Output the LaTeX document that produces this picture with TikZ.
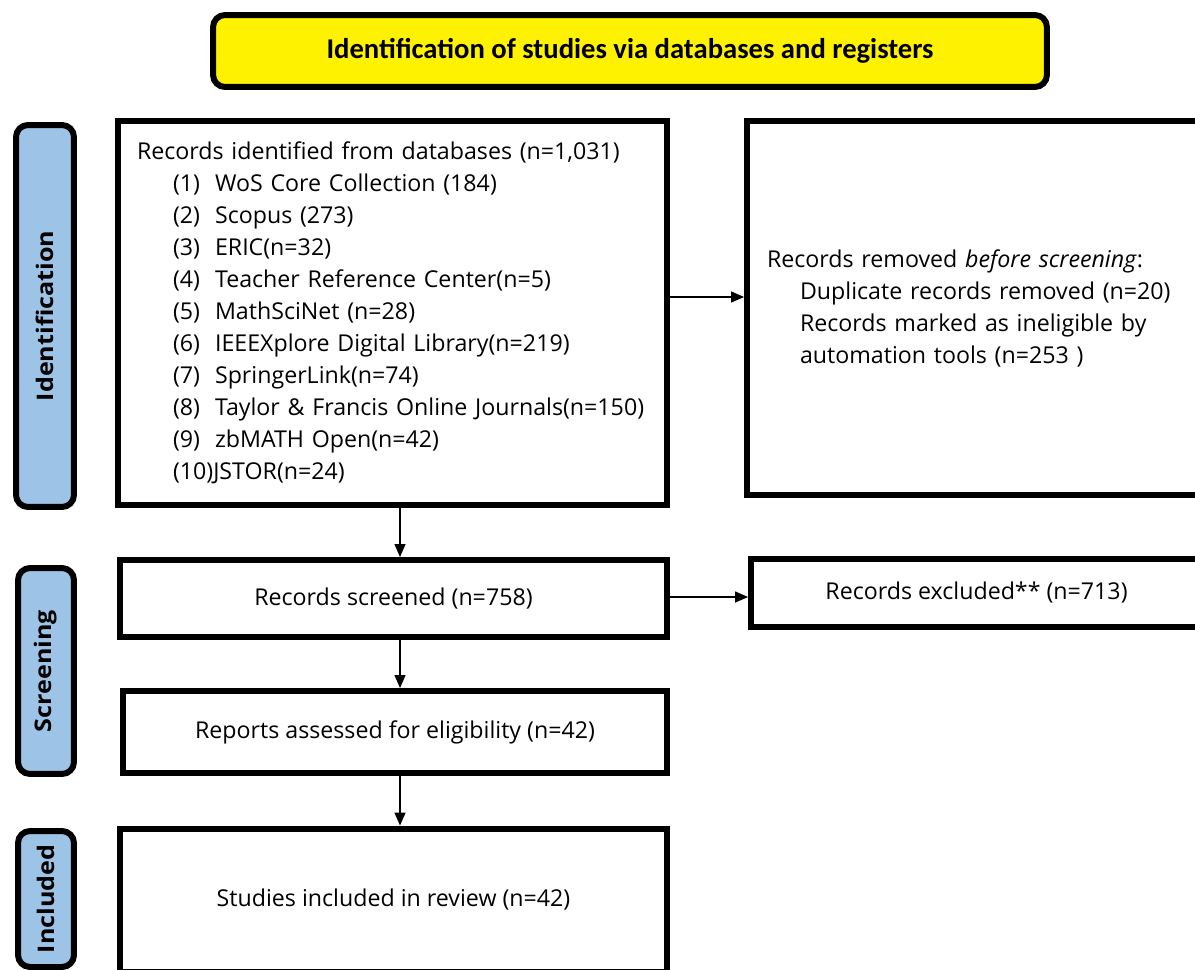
\documentclass[tikz,border=0pt]{standalone}
\usepackage{fontspec}
\setmainfont{Open Sans}
\newfontfamily\headfont{Carlito}
\newfontfamily\sidefont{Open Sans}[FakeStretch=1.1]
\usetikzlibrary{arrows.meta}
\definecolor{phaseblue}{HTML}{9DC3E6}
\newcommand{\src}[2]{\hspace*{0.72cm}\makebox[0.84cm][l]{(#1)}#2}
\tikzset{
  box/.style={draw, line width=0.12cm, inner sep=0pt, align=center},
  phase/.style={draw, line width=0.12cm, rounded corners=0.24cm, fill=phaseblue,
    inner sep=0pt, rotate=90, font=\sidefont\bfseries\fontsize{13pt}{15pt}\selectfont},
  arr/.style={-{Triangle[length=0.26cm,width=0.22cm]}, line width=0.028cm},
  txt/.style={font=\fontsize{13.2pt}{18.2pt}\selectfont}
}
\begin{document}
\begin{tikzpicture}[x=0.02cm, y=-0.02cm, txt]
    \useasboundingbox (0,0) rectangle (1195,969);
    \clip (0,0) rectangle (1195,969);
    % header
    \node[box, rounded corners=0.24cm, fill=yellow, minimum width=16.68cm, minimum height=1.44cm,
      font=\headfont\bfseries\fontsize{16.3pt}{19pt}\selectfont] (title) at (630,51)
      {Identification of studies via databases and registers};
    % phases on the left
    \node[phase, minimum width=7.64cm, minimum height=1.16cm] (pident) at (45,316) {Identification};
    \node[phase, minimum width=4.12cm, minimum height=1.12cm] (pscreen) at (46,671) {Screening};
    \node[phase, minimum width=2.72cm, minimum height=1.12cm] (pincl) at (46,899) {Included};
    % flow boxes
    \node[box, minimum width=10.98cm, minimum height=7.68cm, text width=10.22cm, align=left] (ident) at (392.5,313)
      {Records identified from databases (n=1,031)\\
       \src{1}{WoS Core Collection (184)}\\
       \src{2}{Scopus (273)}\\
       \src{3}{ERIC(n=32)}\\
       \src{4}{Teacher Reference Center(n=5)}\\
       \src{5}{MathSciNet (n=28)}\\
       \src{6}{IEEEXplore Digital Library(n=219)}\\
       \src{7}{SpringerLink(n=74)}\\
       \src{8}{Taylor \& Francis Online Journals(n=150)}\\
       \src{9}{zbMATH Open(n=42)}\\
       \hspace*{0.72cm}(10)JSTOR(n=24)};
    \node[box, minimum width=9.1cm, minimum height=7.48cm, text width=8.3cm, align=left] (removed) at (974.5,308)
      {Records removed \textit{before screening}:\\
       \hspace*{0.66cm}Duplicate records removed (n=20)\\
       \hspace*{0.66cm}Records marked as ineligible by\\
       \hspace*{0.66cm}automation tools (n=253 )};
    \node[box, minimum width=10.94cm, minimum height=1.54cm] (screened) at (393.5,598.5) {Records screened (n=758)};
    \node[box, minimum width=9.02cm, minimum height=1.36cm] (excluded) at (976.5,593) {Records excluded** (n=713)};
    \node[box, minimum width=10.88cm, minimum height=1.64cm] (assessed) at (395,732) {Reports assessed for eligibility (n=42)};
    \node[box, minimum width=10.94cm, minimum height=2.86cm] (included) at (393.5,900) {Studies included in review (n=42)};
    % arrows
    \draw[arr] (ident.east |- 0,297) -- (removed.west |- 0,297);
    \draw[arr] (screened.east |- 0,597) -- (excluded.west |- 0,597);
    \draw[arr] (ident.south -| 400,0) -- (screened.north -| 400,0);
    \draw[arr] (screened.south -| 400,0) -- (assessed.north -| 400,0);
    \draw[arr] (assessed.south -| 400,0) -- (included.north -| 400,0);
\end{tikzpicture}
\end{document}
